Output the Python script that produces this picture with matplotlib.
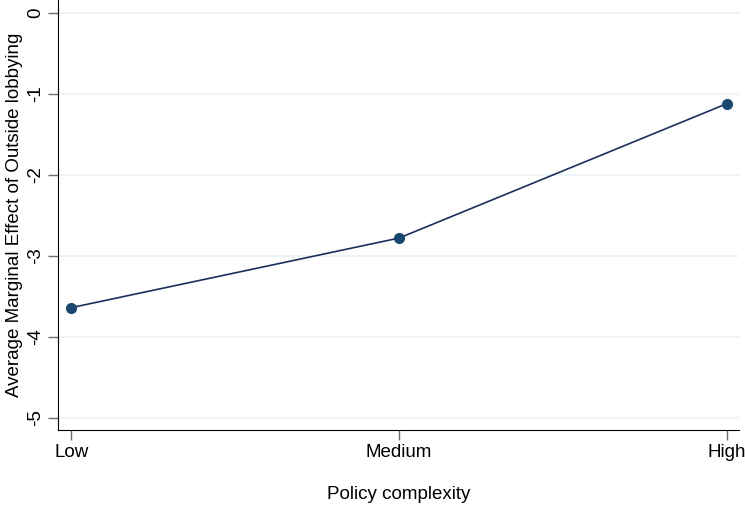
import matplotlib.pyplot as plt

plt.rcParams['font.family'] = ['Liberation Sans', 'DejaVu Sans']

# average marginal effect of outside lobbying by policy complexity
complexity = ['Low', 'Medium', 'High']
ame = [-3.64, -2.78, -1.12]
yticks = [0, -1, -2, -3, -4, -5]

navy = '#1a476f'
fig = plt.figure(figsize=(7.45, 5.07), dpi=100)
ax = fig.add_axes([0.078, 0.152, 0.914, 0.848])

xpos = range(len(complexity))
ax.plot(xpos, ame, color='#1c2f5c', lw=1.2, marker='o', ms=7,
        mfc=navy, mec=navy, zorder=3)

ax.set_xlim(-0.04, 2.037)
ax.set_ylim(-5.15, 0.16)
ax.set_xticks(list(xpos))
ax.set_xticklabels(complexity, fontsize=13.5)
ax.set_yticks(yticks)
ax.set_yticklabels([str(t) for t in yticks], fontsize=13.5, rotation=90, va='center')
for t in yticks:
    ax.axhline(t, color='#eaf2f3', lw=1.2, zorder=0)

ax.tick_params(axis='both', length=7, color='#707070', width=1, pad=3)
ax.spines['top'].set_visible(False)
ax.spines['right'].set_visible(False)
ax.spines['left'].set_color('black')
ax.spines['bottom'].set_color('black')

ax.set_xlabel('Policy complexity', fontsize=13.5, labelpad=18)
ax.set_ylabel('Average Marginal Effect of Outside lobbying', fontsize=13.5)
ax.yaxis.set_label_coords(-0.052, 0.5)

fig.savefig('out.png', dpi=100)
